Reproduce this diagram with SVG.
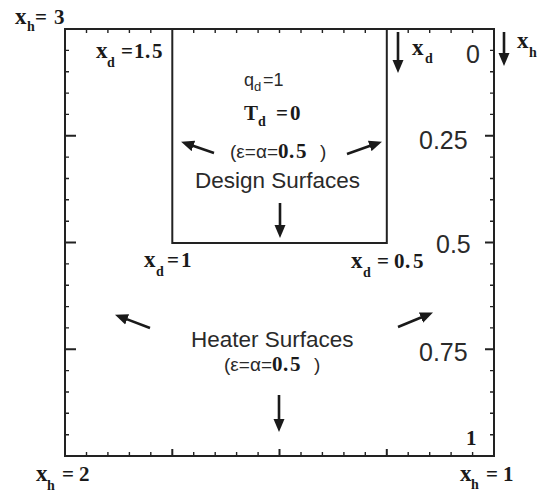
<svg xmlns="http://www.w3.org/2000/svg" width="539" height="494" viewBox="0 0 539 494">
  <defs>
    <style>
      .frame { fill: none; stroke: #222; stroke-width: 2; }
      .tick { stroke: #222; stroke-width: 1.4; }
      .major { stroke: #222; stroke-width: 2; }
      .arrow { stroke: #1a1a1a; stroke-width: 2.6; fill: none; marker-end: url(#head); }
      .serif { font-family: "Liberation Serif", "Times New Roman", serif; font-weight: bold; font-size: 21px; fill: #1a1a1a; }
      .xv { font-size: 23px; }
      .sub { font-size: 14px; }
      .sans { font-family: "Liberation Sans", Arial, sans-serif; fill: #2a2a2a; }
      .axisnum { font-size: 25px; }
      .big { font-size: 22.5px; }
      .mid { font-size: 19px; }
    </style>
    <marker id="head" markerUnits="userSpaceOnUse" markerWidth="14" markerHeight="12" refX="2" refY="6" orient="auto">
      <path d="M0,0.5 L13,6 L0,11.5 z" fill="#1a1a1a"/>
    </marker>
  </defs>
  <rect width="539" height="494" fill="#ffffff"/>

  <g id="frame">
    <rect class="frame" x="65" y="29" width="429" height="427"/>
    <path class="tick" d="M86.5,29v4 M107.9,29v4 M129.4,29v4 M150.8,29v4 M193.7,29v4 M215.2,29v4 M236.6,29v4 M258.1,29v4 M279.5,29v4 M301,29v4 M322.4,29v4 M343.9,29v4 M365.3,29v4 M408.2,29v4 M429.7,29v4 M451.1,29v4 M472.6,29v4"/>
    <path class="tick" d="M86.5,456v-4 M107.9,456v-4 M129.4,456v-4 M150.8,456v-4 M193.7,456v-4 M215.2,456v-4 M236.6,456v-4 M258.1,456v-4 M301,456v-4 M322.4,456v-4 M343.9,456v-4 M365.3,456v-4 M408.2,456v-4 M429.7,456v-4 M451.1,456v-4 M472.6,456v-4"/>
    <path class="major" d="M172.3,456v-7 M279.5,456v-7 M386.8,456v-7"/>
    <path class="tick" d="M65,50.4h4 M65,71.7h4 M65,93.1h4 M65,114.4h4 M65,157.1h4 M65,178.5h4 M65,199.8h4 M65,221.2h4 M65,263.9h4 M65,285.2h4 M65,306.6h4 M65,327.9h4 M65,370.6h4 M65,392h4 M65,413.3h4 M65,434.7h4"/>
    <path class="major" d="M65,135.8h11 M65,242.5h11 M65,349.3h11"/>
    <path class="tick" d="M494,50.4h-4 M494,71.7h-4 M494,93.1h-4 M494,114.4h-4 M494,157.1h-4 M494,178.5h-4 M494,199.8h-4 M494,221.2h-4 M494,263.9h-4 M494,285.2h-4 M494,306.6h-4 M494,327.9h-4 M494,370.6h-4 M494,392h-4 M494,413.3h-4 M494,434.7h-4"/>
    <path class="major" d="M494,135.8h-9 M494,242.5h-9 M494,349.3h-9"/>
    <text class="sans axisnum" x="466" y="63">0</text>
    <text class="sans axisnum" x="419" y="149">0.25</text>
    <text class="sans axisnum" x="436" y="253">0.5</text>
    <text class="sans axisnum" x="419" y="361">0.75</text>
    <text class="serif" x="466" y="445">1</text>
  </g>

  <g id="corner-labels">
    <text class="serif" x="15" y="24"><tspan class="xv">x</tspan><tspan class="sub" x="27" y="31">h</tspan><tspan x="35" y="24">=</tspan><tspan x="54" y="24">3</tspan></text>
    <text class="serif" x="36" y="481"><tspan class="xv">x</tspan><tspan class="sub" x="47" y="490">h</tspan><tspan x="62" y="481">=</tspan><tspan x="79" y="481">2</tspan></text>
    <text class="serif" x="460" y="481"><tspan class="xv">x</tspan><tspan class="sub" x="471" y="489">h</tspan><tspan x="486" y="481">=</tspan><tspan x="503" y="481">1</tspan></text>
    <text class="serif" x="517" y="48"><tspan class="xv">x</tspan><tspan class="sub" x="529" y="57">h</tspan></text>
  </g>

  <g id="design-surfaces">
    <path class="frame" d="M172.3,29 V243 H386.8 V29"/>
    <text class="serif" x="96" y="58"><tspan class="xv">x</tspan><tspan class="sub" x="107" y="67">d</tspan><tspan x="121 134 145 152" y="58">=1.5</tspan></text>
    <text class="serif" x="144" y="267"><tspan class="xv">x</tspan><tspan class="sub" x="156" y="276">d</tspan><tspan x="167" y="267">=</tspan><tspan x="181" y="267">1</tspan></text>
    <text class="serif" x="351" y="268"><tspan class="xv">x</tspan><tspan class="sub" x="363" y="277">d</tspan><tspan x="377" y="268">=</tspan><tspan x="394 405 413" y="268">0.5</tspan></text>
    <text class="serif" x="412" y="55"><tspan class="xv">x</tspan><tspan class="sub" x="425" y="63">d</tspan></text>
    <text class="sans" font-size="18" x="244" y="86">q<tspan font-size="13" x="254" y="91">d</tspan><tspan x="263" y="86">=1</tspan></text>
    <text class="serif" x="244" y="120">T<tspan class="sub" x="258" y="126">d</tspan><tspan x="276" y="120">=</tspan><tspan x="290" y="120">0</tspan></text>
    <text class="sans mid" x="230" y="158">(ε=α=</text>
    <text class="serif" x="278 289 296" y="158">0.5</text>
    <text class="sans mid" x="320" y="158">)</text>
    <text class="sans big" x="195" y="188">Design Surfaces</text>
  </g>

  <g id="heater-surfaces">
    <text class="sans big" x="191" y="347">Heater Surfaces</text>
    <text class="sans mid" x="224" y="371">(ε=α=</text>
    <text class="serif" x="272 283 290" y="371">0.5</text>
    <text class="sans mid" x="314" y="371">)</text>
  </g>

  <g id="connectors">
    <line class="arrow" x1="214" y1="153" x2="191.5" y2="145.3"/>
    <line class="arrow" x1="347" y1="154" x2="371.6" y2="145.3"/>
    <line class="arrow" x1="280" y1="203" x2="280" y2="227"/>
    <line class="arrow" x1="150" y1="328" x2="125.3" y2="318.6"/>
    <line class="arrow" x1="398" y1="327" x2="422.8" y2="316.8"/>
    <line class="arrow" x1="279" y1="395" x2="279" y2="421"/>
    <line class="arrow" x1="398" y1="32" x2="398" y2="62"/>
    <line class="arrow" x1="504" y1="32" x2="504" y2="55"/>
  </g>
</svg>
